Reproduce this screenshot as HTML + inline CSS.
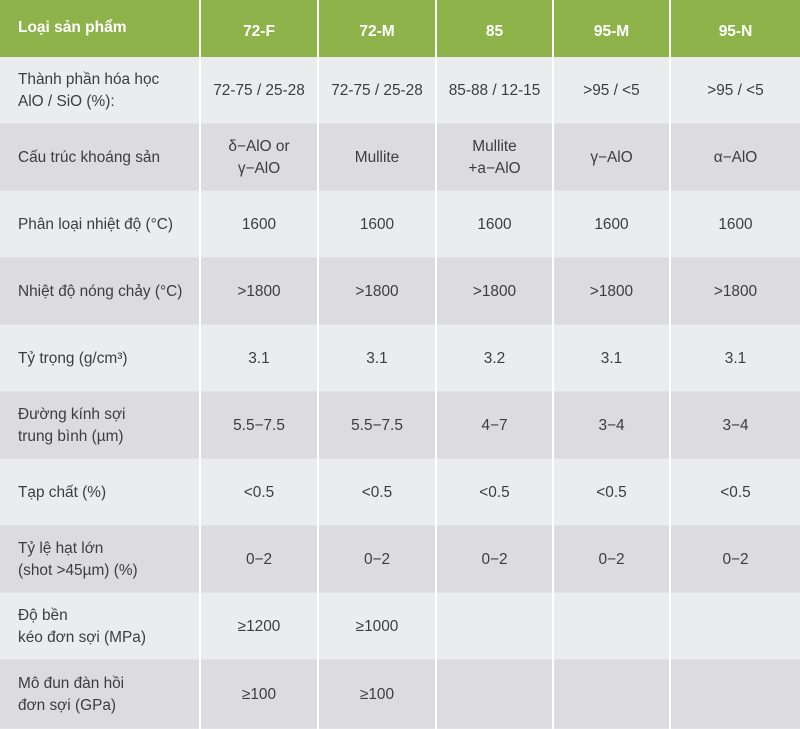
<!DOCTYPE html>
<html><head><meta charset="utf-8"><style>
html,body{margin:0;padding:0;background:#fff;overflow:hidden}
table{border-collapse:collapse;width:800px;table-layout:fixed;font-family:"Liberation Sans",Arial,sans-serif;font-size:15.4px;color:#3d3d3d}
td,th{border-left:2px solid #fff;padding:0;text-align:center;line-height:22px;border-bottom:1px solid #e2e2e4}
td:first-child,th:first-child{border-left:none;text-align:left;padding-left:18px}
th{background:#8db34a;color:#fff;font-weight:bold;height:57px;font-size:15.5px;border-bottom:none;padding-top:6px;box-sizing:border-box}
th:first-child{vertical-align:top;padding-top:17px}
tr.l td{background:#ebecee}
tr.d td{background:#dcdcde}
td{height:64px;padding-top:2px}
tr:last-child td{height:66px}
</style></head><body>
<table>
<colgroup><col style="width:200px"><col style="width:118px"><col style="width:118px"><col style="width:117px"><col style="width:117px"><col style="width:130px"></colgroup>
<tr><th>Loại sản phẩm</th><th>72-F</th><th>72-M</th><th>85</th><th>95-M</th><th>95-N</th></tr>
<tr class="l"><td>Thành phần hóa học<br>AlO / SiO (%):</td><td>72-75 / 25-28</td><td>72-75 / 25-28</td><td>85-88 / 12-15</td><td>&gt;95 / &lt;5</td><td>&gt;95 / &lt;5</td></tr>
<tr class="d"><td>Cấu trúc khoáng sản</td><td>δ−AlO or<br>γ−AlO</td><td>Mullite</td><td>Mullite<br>+a−AlO</td><td>γ−AlO</td><td>α−AlO</td></tr>
<tr class="l"><td>Phân loại nhiệt độ (°C)</td><td>1600</td><td>1600</td><td>1600</td><td>1600</td><td>1600</td></tr>
<tr class="d"><td>Nhiệt độ nóng chảy (°C)</td><td>&gt;1800</td><td>&gt;1800</td><td>&gt;1800</td><td>&gt;1800</td><td>&gt;1800</td></tr>
<tr class="l"><td>Tỷ trọng (g/cm³)</td><td>3.1</td><td>3.1</td><td>3.2</td><td>3.1</td><td>3.1</td></tr>
<tr class="d"><td>Đường kính sợi<br>trung bình (µm)</td><td>5.5−7.5</td><td>5.5−7.5</td><td>4−7</td><td>3−4</td><td>3−4</td></tr>
<tr class="l"><td>Tạp chất (%)</td><td>&lt;0.5</td><td>&lt;0.5</td><td>&lt;0.5</td><td>&lt;0.5</td><td>&lt;0.5</td></tr>
<tr class="d"><td>Tỷ lệ hạt lớn<br>(shot &gt;45µm) (%)</td><td>0−2</td><td>0−2</td><td>0−2</td><td>0−2</td><td>0−2</td></tr>
<tr class="l"><td>Độ bền<br>kéo đơn sợi (MPa)</td><td>≥1200</td><td>≥1000</td><td></td><td></td><td></td></tr>
<tr class="d"><td>Mô đun đàn hồi<br>đơn sợi (GPa)</td><td>≥100</td><td>≥100</td><td></td><td></td><td></td></tr>
</table>
</body></html>
